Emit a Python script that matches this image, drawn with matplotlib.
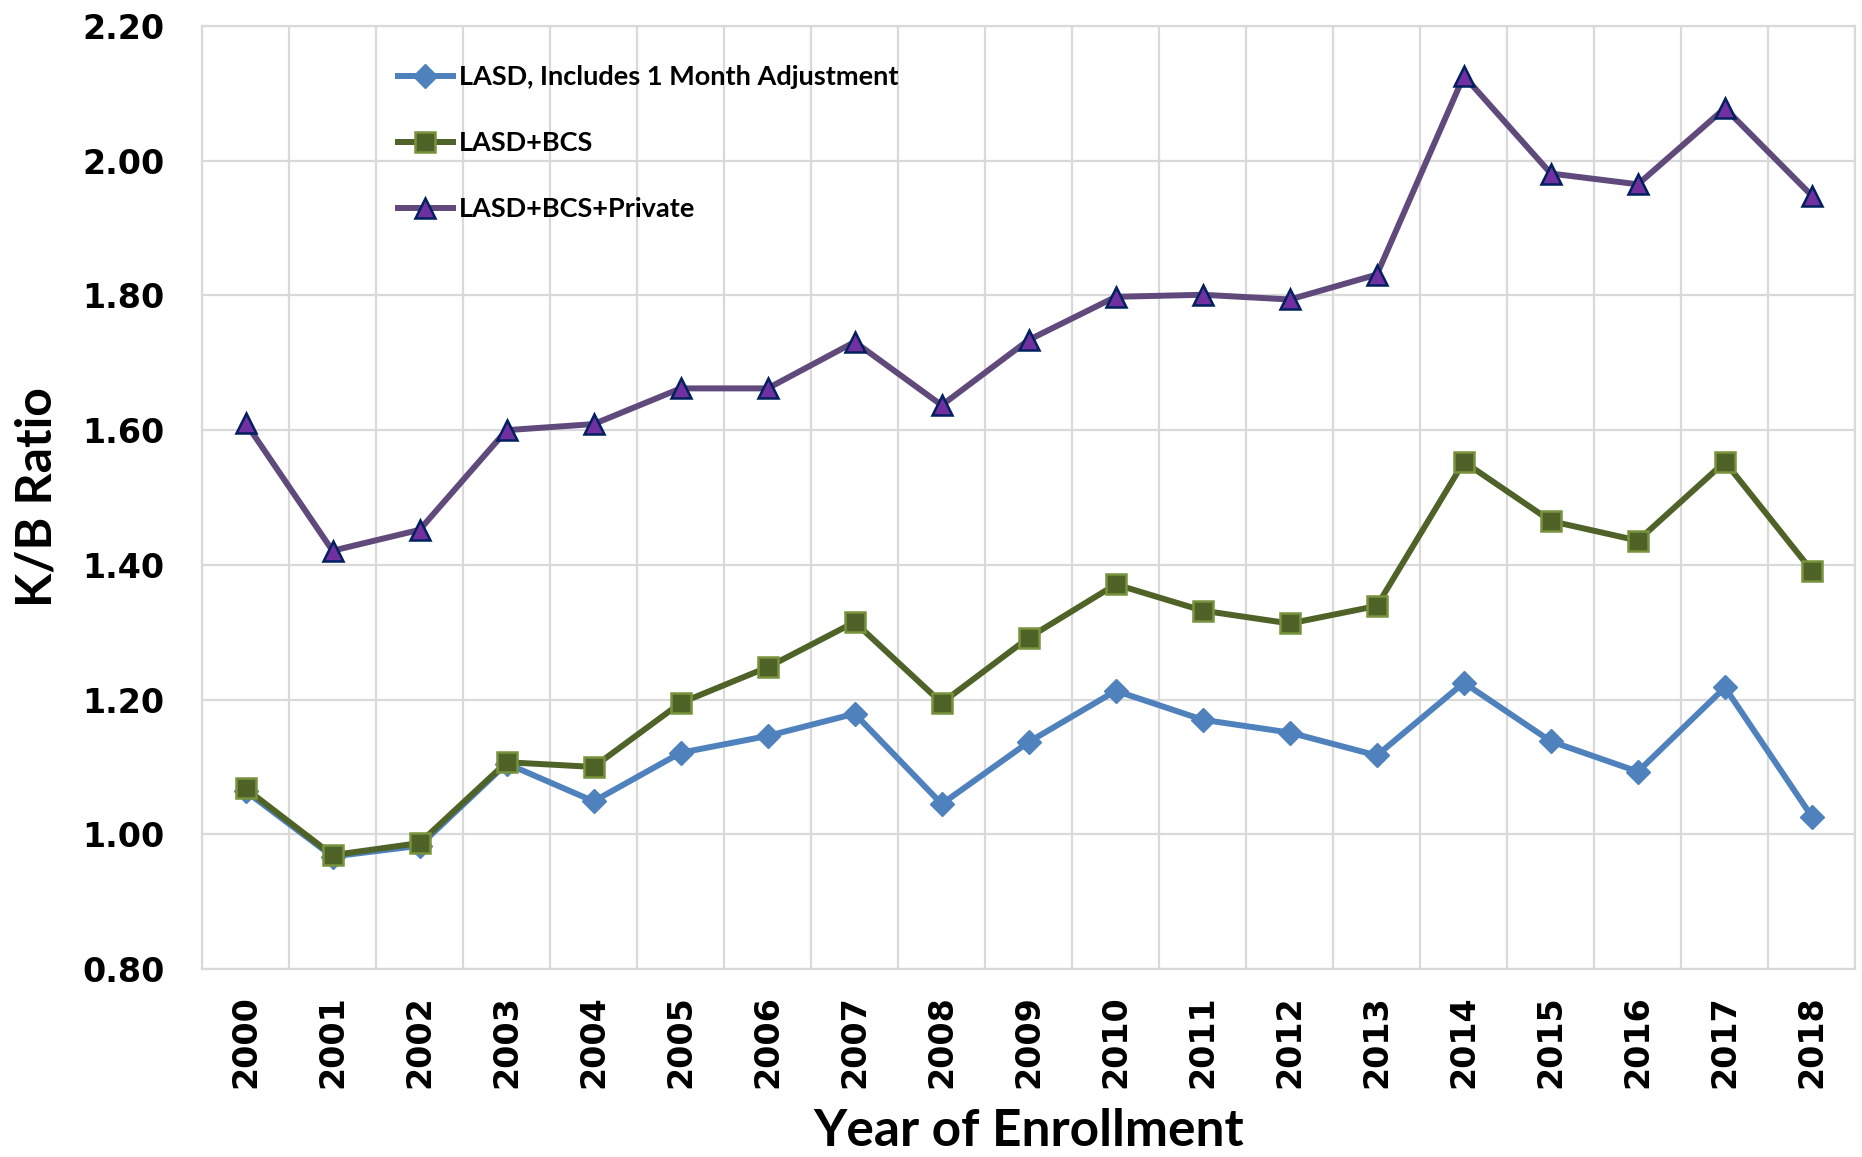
import numpy as np
import matplotlib
matplotlib.use('Agg')
import matplotlib.pyplot as plt

# values
years = [str(y) for y in range(2000, 2019)]
lasd = [1.064, 0.967, 0.983, 1.105, 1.049, 1.121, 1.146, 1.179, 1.045, 1.137,
        1.213, 1.170, 1.151, 1.117, 1.225, 1.138, 1.093, 1.218, 1.026]
lasd_bcs = [1.068, 0.969, 0.987, 1.107, 1.100, 1.195, 1.248, 1.315, 1.195, 1.292,
            1.371, 1.332, 1.313, 1.339, 1.553, 1.465, 1.436, 1.553, 1.391]
lasd_bcs_priv = [1.611, 1.421, 1.452, 1.600, 1.609, 1.662, 1.662, 1.731, 1.637, 1.734,
                 1.798, 1.801, 1.794, 1.831, 2.126, 1.981, 1.965, 2.078, 1.948]
labels = ['LASD, Includes 1 Month Adjustment', 'LASD+BCS', 'LASD+BCS+Private']
yticks = [0.80, 1.00, 1.20, 1.40, 1.60, 1.80, 2.00, 2.20]

fig = plt.figure(figsize=(18.62, 11.57), dpi=100)
ax = fig.add_axes([0.1085, 0.1625, 0.888, 0.815])

x = np.arange(len(years))
ax.plot(x, lasd, color='#4F81BD', lw=4.3, marker='D', ms=12,
        mfc='#4F81BD', mec='#4F81BD', label=labels[0], zorder=3)
ax.plot(x, lasd_bcs, color='#4F6228', lw=4.3, marker='s', ms=14,
        mfc='#4F6228', mec='#77933C', mew=1.8, label=labels[1], zorder=4)
ax.plot(x, lasd_bcs_priv, color='#604A7B', lw=4.3, marker='^', ms=14,
        mfc='#7030A0', mec='#002060', mew=1.8, label=labels[2], zorder=5)

ax.set_xlim(-0.5, len(years) - 0.5)
ax.set_ylim(0.80, 2.20)
ax.set_yticks(yticks)
ax.set_yticklabels(['%.2f' % v for v in yticks])
ax.set_xticks(x)
ax.set_xticklabels(years, rotation=90)
ax.set_xticks(np.arange(-0.5, len(years), 1.0), minor=True)

ax.grid(True, which='major', axis='y', color='#D9D9D9', lw=1.6)
ax.grid(True, which='minor', axis='x', color='#D9D9D9', lw=1.6)
ax.set_axisbelow(True)
for s in ax.spines.values():
    s.set_color('#D9D9D9')
    s.set_linewidth(1.6)

ax.tick_params(which='both', length=0)
ax.tick_params(axis='y', pad=27)
ax.tick_params(axis='x', pad=19)
for t in ax.get_xticklabels() + ax.get_yticklabels():
    t.set_fontfamily('DejaVu Sans')
    t.set_fontweight('bold')
    t.set_fontsize(24)

ax.set_ylabel('K/B Ratio', fontsize=36, fontweight='bold',
              family='Lato', labelpad=16)
ax.set_xlabel('Year of Enrollment', fontsize=37, fontweight='bold',
              family='Lato', labelpad=14)

leg = ax.legend(loc='upper left', bbox_to_anchor=(0.104, 0.984), frameon=False,
                prop={'family': 'Lato', 'weight': 'bold', 'size': 19.5},
                labelspacing=1.55, handlelength=2.0, handletextpad=0.25)

fig.savefig('out.png', dpi=100)
